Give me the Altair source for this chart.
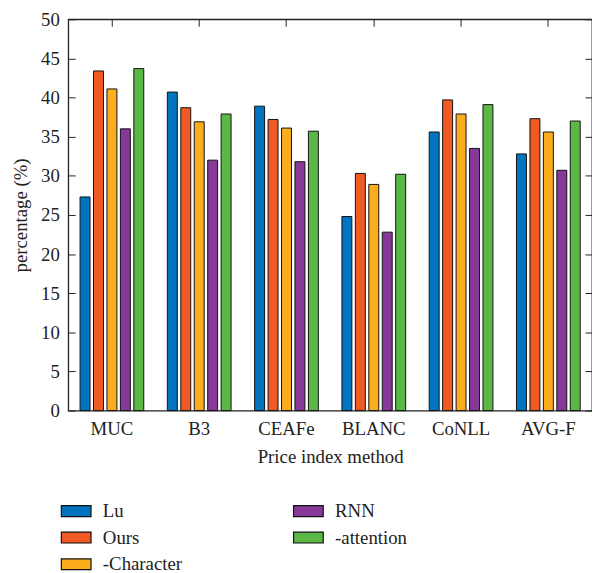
import altair as alt
import pandas as pd

categories = ["MUC", "B3", "CEAFe", "BLANC", "CoNLL", "AVG-F"]
series = ["Lu", "Ours", "-Character", "RNN", "-attention"]
colors = ["#0074BE", "#F15A22", "#FBAD1D", "#863996", "#5BB847"]

lu = [27.3, 40.7, 38.9, 24.8, 35.6, 32.8]
ours = [43.4, 38.7, 37.2, 30.3, 39.7, 37.3]
character = [41.1, 36.9, 36.1, 28.9, 37.9, 35.6]
rnn = [36.0, 32.0, 31.8, 22.8, 33.5, 30.7]
attention = [43.7, 37.9, 35.7, 30.2, 39.1, 37.0]

y_ticks = [0, 5, 10, 15, 20, 25, 30, 35, 40, 45, 50]

values = [lu, ours, character, rnn, attention]
rows = []
for s, vals in zip(series, values):
    for c, v in zip(categories, vals):
        rows.append({"method": c, "model": s, "value": v})
df = pd.DataFrame(rows)

FONT = "Liberation Serif"
FS = 19
INK = "#222222"

x_scale = alt.Scale(paddingInner=0.27, paddingOuter=0.135)
y_scale = alt.Scale(domain=[0, 50], nice=False)

bars = alt.Chart(df).mark_bar(stroke="#111111", strokeWidth=1).encode(
    x=alt.X("method:N", sort=categories, scale=x_scale,
            axis=alt.Axis(orient="bottom", title="Price index method", labelAngle=0,
                          domain=False, offset=-7, tickSize=7, tickColor=INK,
                          labelPadding=9, titlePadding=10, labelFontSize=FS,
                          titleFontSize=FS, labelFont=FONT, titleFont=FONT,
                          labelColor=INK, titleColor=INK,
                          titleFontWeight="normal")),
    xOffset=alt.XOffset("model:N", sort=series,
                        scale=alt.Scale(paddingInner=0.26, paddingOuter=0)),
    y=alt.Y("value:Q", scale=y_scale,
            axis=alt.Axis(orient="left", title="percentage (%)", values=y_ticks,
                          domain=False, offset=-7, tickSize=7, tickColor=INK,
                          labelPadding=9, titlePadding=10, labelFontSize=FS,
                          titleFontSize=FS, labelFont=FONT, titleFont=FONT,
                          labelColor=INK, titleColor=INK,
                          titleFontWeight="normal", grid=False)),
    color=alt.Color("model:N", scale=alt.Scale(domain=series, range=colors),
                    legend=alt.Legend(title=None, orient="none", legendX=-1.5, legendY=488,
                                      columns=2, columnPadding=110, rowPadding=7,
                                      symbolType="M-2.73,-1H2.73V1H-2.73Z", symbolSize=121,
                                      symbolStrokeColor="#111111", symbolStrokeWidth=1.2,
                                      symbolOpacity=1, labelOffset=17.5, labelFontSize=FS,
                                      labelFont=FONT, labelColor=INK, padding=0)),
)

mirror = alt.Chart(df).mark_point(opacity=0).encode(
    x=alt.X("method:N", sort=categories, scale=x_scale,
            axis=alt.Axis(orient="top", title=None, labels=False, domain=False,
                          offset=-7, tickSize=7, tickColor=INK)),
    y=alt.Y("value:Q", scale=y_scale,
            axis=alt.Axis(orient="right", title=None, labels=False, domain=False,
                          values=y_ticks, offset=-7, tickSize=7, tickColor=INK,
                          grid=False)),
)

chart = alt.layer(bars, mirror).resolve_axis(x="independent", y="independent").properties(
    width=530, height=396,
    autosize=alt.AutoSizeParams(type="none"),
    padding={"left": 61, "top": 8, "right": 0, "bottom": 168},
).configure_view(stroke=INK, strokeWidth=1.3).configure_axis(grid=False)

chart.save("out.html", embed_options={"renderer": "svg", "actions": False})
